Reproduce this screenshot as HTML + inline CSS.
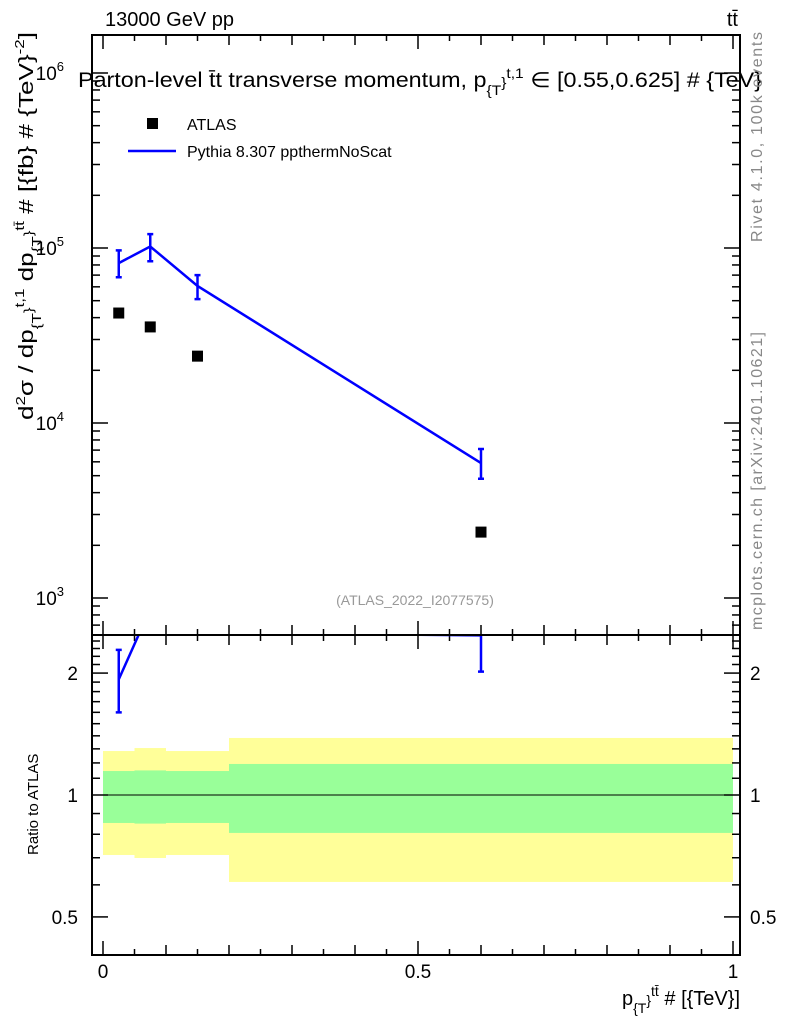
<!DOCTYPE html>
<html><head><meta charset="utf-8"><style>
body{margin:0;background:#fff;}
text{font-family:"Liberation Sans",sans-serif;}
</style></head><body>
<svg id="c" width="786" height="1024" xmlns="http://www.w3.org/2000/svg">
<defs>
<clipPath id="cm"><rect x="92" y="35" width="648" height="600"/></clipPath>
<clipPath id="cr"><rect x="92" y="635" width="648" height="320"/></clipPath>
</defs>
<g id="bands" clip-path="url(#cr)"></g>
<g id="ticks"></g>
<g id="marks"></g>
<rect x="92" y="35" width="648" height="600" fill="none" stroke="#000" stroke-width="2"/>
<rect x="92" y="635" width="648" height="320" fill="none" stroke="#000" stroke-width="2"/>
<text x="105" y="26" font-size="20">13000 GeV pp</text>
<text x="738" y="26" font-size="20" text-anchor="end">tt̄</text>
<text x="78" y="87" font-size="21" textLength="684" lengthAdjust="spacingAndGlyphs">Parton-level t̄t transverse momentum, p<tspan font-size="14" dy="8">{T</tspan><tspan font-size="14" dy="-8">}</tspan><tspan font-size="14" dy="-9">t,1</tspan><tspan dy="9"> ∈ [0.55,0.625] # {TeV}</tspan></text>
<rect x="147" y="118" width="11" height="11" fill="#000"/>
<text x="187" y="130" font-size="16">ATLAS</text>
<line x1="128" y1="151" x2="176" y2="151" stroke="#0000ff" stroke-width="2.5"/>
<text x="187" y="157" font-size="16">Pythia 8.307 ppthermNoScat</text>
<text x="415" y="605" font-size="14" fill="#999" text-anchor="middle">(ATLAS_2022_I2077575)</text>
<text transform="translate(762,242) rotate(-90)" font-size="16" fill="#888" textLength="210">Rivet 4.1.0,  100k events</text>
<text transform="translate(762,630) rotate(-90)" font-size="16" fill="#888" textLength="298">mcplots.cern.ch [arXiv:2401.10621]</text>
<text transform="translate(33,420) rotate(-90)" font-size="20" textLength="388" lengthAdjust="spacingAndGlyphs">d<tspan font-size="13" dy="-8">2</tspan><tspan dy="8">σ / dp</tspan><tspan font-size="13" dy="8">{T</tspan><tspan font-size="13" dy="-8">}</tspan><tspan font-size="13" dy="-9">t,1</tspan><tspan dy="9"> dp</tspan><tspan font-size="13" dy="8">{T</tspan><tspan font-size="13" dy="-8">}</tspan><tspan font-size="13" dy="-9">tt̄</tspan><tspan dy="9"> # [{fb} # {TeV}</tspan><tspan font-size="13" dy="-9">-2</tspan><tspan dy="9">]</tspan></text>
<text transform="translate(38,855) rotate(-90)" font-size="15">Ratio to ATLAS</text>
<text x="740" y="1005" font-size="20" text-anchor="end">p<tspan font-size="14" dy="8">{T</tspan><tspan font-size="14" dy="-8">}</tspan><tspan font-size="14" dy="-9">tt̄</tspan><tspan dy="9"> # [{TeV}]</tspan></text>
</svg>
<script>
const binCenters=[0.025,0.075,0.15,0.6];
const binEdges=[0,0.05,0.1,0.2,1];
const atlasVals=[42500,35400,24100,2380];
const mcVals=[82000,102000,60700,5900];
const mcErrUp=[97000,120000,70000,7100];
const mcErrDn=[68000,84000,51000,4800];
const yellowHi=[1.284,1.306,1.284,1.383];
const yellowLo=[0.711,0.699,0.711,0.61];
const greenHi=[1.146,1.15,1.146,1.193];
const greenLo=[0.853,0.85,0.853,0.806];
const xTickLabels=["0","0.5","1"];
const xTickVals=[0,0.5,1];
const yDecades=[3,4,5,6];
const ratioTicks=[0.5,1,2];
const ratioLabels=["0.5","1","2"];

const NS="http://www.w3.org/2000/svg";
const X=v=>103+630*v;
const Y=v=>73+175*(6-Math.log10(v));
const R=v=>795-405*Math.log10(v);
function mk(p,tag,at){const e=document.createElementNS(NS,tag);for(const k in at)e.setAttribute(k,at[k]);p.appendChild(e);return e;}
const bands=document.getElementById('bands'),ticks=document.getElementById('ticks'),marks=document.getElementById('marks');
for(let i=0;i<4;i++){
 const a=X(binEdges[i]),b=X(binEdges[i+1]);
 const y=mk(bands,'rect',{x:a,y:R(yellowHi[i]),width:b-a,height:R(yellowLo[i])-R(yellowHi[i]),fill:'#ffff99'});
 
 
 const g=mk(bands,'rect',{x:a,y:R(greenHi[i]),width:b-a,height:R(greenLo[i])-R(greenHi[i]),fill:'#99ff99'});
 
 
}
const one=mk(bands,'line',{x1:92,x2:740,y1:R(1),y2:R(1),stroke:'#000','stroke-width':1});


for(let k=0;k<=20;k++){const v=k*0.05,x=X(v);const L=(k%10==0)?14:(k%2==0?10:6);
 for(const [y0,d] of [[635,-1],[955,-1],[35,1],[635,1]]){mk(ticks,'line',{x1:x,x2:x,y1:y0,y2:y0+d*L,stroke:'#000','stroke-width':1.5});}
}
xTickVals.forEach((v,i)=>{const t=mk(ticks,'text',{x:X(v),y:978,'font-size':19,'text-anchor':'middle'});t.textContent=xTickLabels[i];
 
 });
for(let d=2;d<=6;d++)for(let m=1;m<10;m++){const v=m*Math.pow(10,d),y=Y(v);if(y<35||y>635)continue;const L=m==1?16:8;
 mk(ticks,'line',{x1:92,x2:92+L,y1:y,y2:y,stroke:'#000','stroke-width':1.5});mk(ticks,'line',{x1:740,x2:740-L,y1:y,y2:y,stroke:'#000','stroke-width':1.5});}
yDecades.forEach(d=>{const t=mk(ticks,'text',{x:64,y:Y(Math.pow(10,d))+7,'font-size':19,'text-anchor':'end'});t.textContent='10';
 const s=mk(t,'tspan',{dy:-9,'font-size':13});s.textContent=d;
 
 });
for(let v=0.4;v<=2.5;v+=0.1){const y=R(v);if(y<635||y>955)continue;const maj=[0.5,1,2].some(q=>Math.abs(q-v)<1e-6);const L=maj?16:8;
 mk(ticks,'line',{x1:92,x2:92+L,y1:y,y2:y,stroke:'#000','stroke-width':1.5});mk(ticks,'line',{x1:740,x2:740-L,y1:y,y2:y,stroke:'#000','stroke-width':1.5});}
ratioTicks.forEach((v,i)=>{for(const [x,a] of [[78,'end'],[750,'start']]){const t=mk(ticks,'text',{x:x,y:R(v)+7,'font-size':19,'text-anchor':a});t.textContent=ratioLabels[i];
 
 }});
const gm=mk(marks,'g',{'clip-path':'url(#cm)'});
const gr=mk(marks,'g',{'clip-path':'url(#cr)'});
const pl=mk(gm,'polyline',{points:binCenters.map((c,i)=>X(c)+','+Y(mcVals[i])).join(' '),fill:'none',stroke:'#0000ff','stroke-width':2.5});


const rat=mcVals.map((v,i)=>v/atlasVals[i]);
const rl=mk(gr,'polyline',{points:binCenters.map((c,i)=>X(c)+','+R(rat[i])).join(' '),fill:'none',stroke:'#0000ff','stroke-width':2.5});


binCenters.forEach((c,i)=>{const x=X(c);
 const e=mk(gm,'path',{d:`M${x},${Y(mcErrUp[i])}V${Y(mcErrDn[i])}M${x-3},${Y(mcErrUp[i])}h6M${x-3},${Y(mcErrDn[i])}h6`,stroke:'#0000ff','stroke-width':2.5,fill:'none'});
 
 
 const p=mk(gm,'rect',{x:x-5.5,y:Y(atlasVals[i])-5.5,width:11,height:11,fill:'#000'});
 
 
 if(rat[i]<=2.5){
  const ru=mcErrUp[i]/atlasVals[i],rd=mcErrDn[i]/atlasVals[i];
  const re=mk(gr,'path',{d:`M${x},${R(ru)}V${R(rd)}M${x-3},${R(ru)}h6M${x-3},${R(rd)}h6`,stroke:'#0000ff','stroke-width':2.5,fill:'none'});
  
  
 }
});
</script>
</body></html>
